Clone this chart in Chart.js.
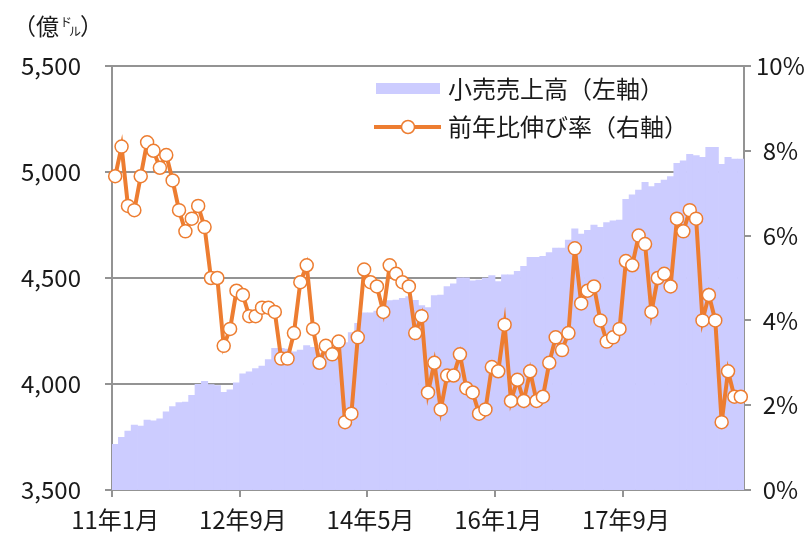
<!DOCTYPE html>
<html><head><meta charset="utf-8">
<script src="https://cdn.jsdelivr.net/npm/chart.js@4/dist/chart.umd.min.js"></script>
<style>html,body{margin:0;padding:0;background:#fff}#wrap{width:812px;height:538px}</style>
</head><body><div id="wrap"><canvas id="c" width="812" height="538"></canvas></div>
<script>
// 小売売上高（億ドル）, monthly 2011年1月 – 2019年3月
const retailSales = [
  3715,3749,3778,3806,3802,3830,3826,3836,3869,3893,3912,3915,
  3946,3998,4013,3997,3992,3961,3972,4005,4048,4057,4073,4085,
  4115,4168,4168,4165,4152,4160,4181,4173,4145,4152,4176,4192,
  4195,4242,4286,4336,4336,4344,4349,4393,4396,4404,4412,4395,
  4370,4360,4417,4420,4459,4472,4501,4501,4487,4490,4500,4511,
  4483,4515,4515,4532,4555,4597,4598,4602,4620,4641,4641,4679,
  4732,4707,4725,4750,4739,4761,4770,4773,4871,4892,4915,4951,
  4931,4947,4962,4978,5041,5053,5083,5077,5069,5116,5116,5036,
  5069,5061,5061
];
// 前年比伸び率（%）
const yoyGrowth = [
  7.4,8.1,6.7,6.6,7.4,8.2,8.0,7.6,7.9,7.3,6.6,6.1,
  6.4,6.7,6.2,5.0,5.0,3.4,3.8,4.7,4.6,4.1,4.1,4.3,
  4.3,4.2,3.1,3.1,3.7,4.9,5.3,3.8,3.0,3.4,3.2,3.5,
  1.6,1.8,3.6,5.2,4.9,4.8,4.2,5.3,5.1,4.9,4.8,3.7,
  4.1,2.3,3.0,1.9,2.7,2.7,3.2,2.4,2.3,1.8,1.9,2.9,
  2.8,3.9,2.1,2.6,2.1,2.8,2.1,2.2,3.0,3.6,3.3,3.7,
  5.7,4.4,4.7,4.8,4.0,3.5,3.6,3.8,5.4,5.3,6.0,5.8,
  4.2,5.0,5.1,4.8,6.4,6.1,6.6,6.4,4.0,4.6,4.0,1.6,
  2.8,2.2,2.2
];
const tickLabels = ['11年1月','12年9月','14年5月','16年1月','17年9月'];
const leftTicks = [3500,4000,4500,5000,5500];
const rightTicks = [0,2,4,6,8,10];
const seriesNames = ['小売売上高（左軸）','前年比伸び率（右軸）'];
const unitParts = ['（億','ド','ル','）'];

const categories = [];
for (let i = 0; i < retailSales.length; i++) {
  categories.push((11 + Math.floor(i / 12)) + '年' + (i % 12 + 1) + '月');
}

const FONT = "'Noto Sans CJK JP','Noto Sans',sans-serif";
const TXT = '#1a1a1a';
const GRID = '#939393';
const BAR = '#ccccff';
const LINE = '#ed7d31';
const FS = 24;

const overlay = {
  id: 'overlay',
  afterDraw(chart) {
    const ctx = chart.ctx;
    ctx.save();
    // unit label
    ctx.fillStyle = TXT;
    ctx.textBaseline = 'middle';
    ctx.textAlign = 'left';
    ctx.font = '23px ' + FONT;
    let x = 13;
    ctx.fillText(unitParts[0], x, 26);
    x += ctx.measureText(unitParts[0]).width + 1;
    ctx.font = '12px ' + FONT;
    ctx.fillText(unitParts[1], x, 22);
    const w1 = ctx.measureText(unitParts[1]).width;
    ctx.fillText(unitParts[2], x + w1 - 3, 31);
    x += w1 + ctx.measureText(unitParts[2]).width - 4;
    ctx.font = '23px ' + FONT;
    ctx.fillText(unitParts[3], x, 26);
    // legend
    ctx.fillStyle = BAR;
    ctx.fillRect(376, 83, 64, 11);
    ctx.strokeStyle = LINE;
    ctx.lineWidth = 4;
    ctx.beginPath(); ctx.moveTo(374, 127); ctx.lineTo(441, 127); ctx.stroke();
    ctx.beginPath(); ctx.arc(408, 127, 6.5, 0, Math.PI * 2);
    ctx.fillStyle = '#fff'; ctx.fill(); ctx.lineWidth = 1.5; ctx.stroke();
    ctx.fillStyle = TXT;
    ctx.font = FS + 'px ' + FONT;
    ctx.fillText(seriesNames[0], 448, 89);
    ctx.fillText(seriesNames[1], 448, 127);
    ctx.restore();
  }
};

new Chart(document.getElementById('c'), {
  type: 'bar',
  data: {
    labels: categories,
    datasets: [
      {
        type: 'line', label: seriesNames[1], data: yoyGrowth, yAxisID: 'y1', order: 0,
        borderColor: LINE, borderWidth: 4, tension: 0,
        pointRadius: 6.5, pointBackgroundColor: '#fff', pointBorderColor: LINE, pointBorderWidth: 1.5
      },
      {
        type: 'bar', label: seriesNames[0], data: retailSales, yAxisID: 'y', order: 1,
        backgroundColor: BAR, borderWidth: 0, barPercentage: 1, categoryPercentage: 1
      }
    ]
  },
  options: {
    responsive: false, animation: false, devicePixelRatio: 1,
    layout: { padding: { top: 66, left: 0, right: 0, bottom: 0 } },
    plugins: { legend: { display: false }, tooltip: { enabled: false } },
    scales: {
      x: {
        type: 'category', offset: true,
        grid: {
          offset: true, drawOnChartArea: false, tickLength: 7, lineWidth: 2,
          color: (c) => (c.index % 20 === 0 && c.index < retailSales.length) ? GRID : 'rgba(0,0,0,0)'
        },
        border: { display: true, color: GRID, width: 2 },
        ticks: {
          autoSkip: false, maxRotation: 0, minRotation: 0, padding: 8,
          color: TXT, font: { family: FONT, size: FS },
          callback: function (v, i) { const l = categories[i]; return tickLabels.includes(l) ? l : ''; }
        },
        afterFit: (s) => { s.height = 48; }
      },
      y: {
        position: 'left', min: leftTicks[0], max: leftTicks[leftTicks.length - 1],
        afterBuildTicks: (s) => { s.ticks = leftTicks.map(v => ({ value: v })); },
        grid: { color: GRID, lineWidth: 2, tickLength: 7 },
        border: { display: true, color: GRID, width: 2 },
        ticks: {
          padding: 24, color: TXT, font: { family: FONT, size: FS },
          callback: (v) => v.toLocaleString('en-US')
        },
        afterFit: (s) => { s.width = 112; }
      },
      y1: {
        position: 'right', min: rightTicks[0], max: rightTicks[rightTicks.length - 1],
        afterBuildTicks: (s) => { s.ticks = rightTicks.map(v => ({ value: v })); },
        grid: { drawOnChartArea: false, color: GRID, lineWidth: 2, tickLength: 7 },
        border: { display: true, color: GRID, width: 2 },
        ticks: {
          padding: 5, crossAlign: 'center', color: TXT, font: { family: FONT, size: FS },
          callback: (v) => v + '%'
        },
        afterFit: (s) => { s.width = 68; }
      }
    }
  },
  plugins: [overlay]
});
</script></body></html>
